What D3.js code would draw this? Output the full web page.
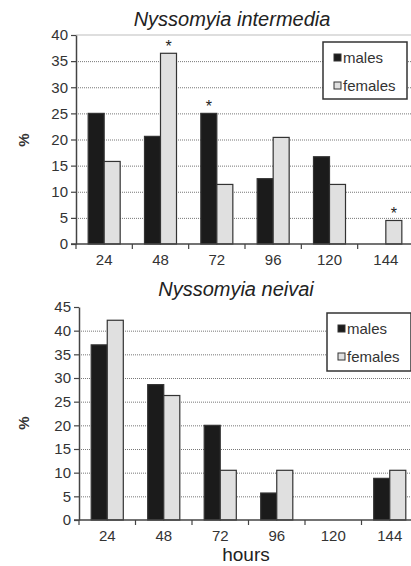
<!DOCTYPE html>
<html>
<head>
<meta charset="utf-8">
<script src="https://cdn.jsdelivr.net/npm/d3@7"></script>
<style>
  body { margin: 0; background: #fff; }
  svg { display: block; font-family: "Liberation Sans", Arial, sans-serif; }
</style>
</head>
<body>
<div id="chart"></div>
<script>
// data ---------------------------------------------------------
var hours = ["24", "48", "72", "96", "120", "144"];
var sexes = ["males", "females"];

var intermediaMales   = [25, 20.6, 25, 12.5, 16.7, 0];
var intermediaFemales = [15.8, 36.5, 11.4, 20.4, 11.4, 4.5];
var intermediaStars   = [["48", "females"], ["72", "males"], ["144", "females"]];
var intermediaTicks   = [0, 5, 10, 15, 20, 25, 30, 35, 40];

var neivaiMales   = [37, 28.6, 20, 5.7, 0, 8.8];
var neivaiFemales = [42.2, 26.3, 10.5, 10.5, 0, 10.5];
var neivaiTicks   = [0, 5, 10, 15, 20, 25, 30, 35, 40, 45];

var barColor = { males: "#1b1b1b", females: "#e0e0e0" };

// layout ---------------------------------------------------------
var W = 411, H = 566;

var svg = d3.select("#chart").append("svg")
  .attr("width", W)
  .attr("height", H);

var drawPanel = function(opt) {
  var g = svg.append("g");

  var x = d3.scaleBand().domain(hours).range([opt.left, opt.right]);
  var xSub = d3.scaleBand().domain(sexes)
    .range([0, x.bandwidth()])
    .paddingOuter(0.76);
  var y = d3.scaleLinear().domain([0, opt.max]).range([opt.bottom, opt.top]);

  // light line at the top of the first panel
  if (opt.topLine) {
    g.append("line")
      .attr("x1", opt.left).attr("x2", W)
      .attr("y1", y(opt.max)).attr("y2", y(opt.max))
      .attr("stroke", "#bdbdbd").attr("stroke-width", 1);
  }

  // dotted gridlines
  g.append("g").selectAll("line")
    .data(opt.ticks.filter(function(t){ return t > 0 && t < opt.max; }))
    .enter().append("line")
    .attr("x1", opt.left).attr("x2", W)
    .attr("y1", function(t){ return y(t) + 0.5; })
    .attr("y2", function(t){ return y(t) + 0.5; })
    .attr("stroke", "#777")
    .attr("stroke-width", 1)
    .attr("stroke-dasharray", "1,1");

  // bars
  var rows = hours.map(function(h, i){
    return { hour: h, males: opt.males[i], females: opt.females[i] };
  });
  var groups = g.append("g").selectAll("g")
    .data(rows).enter().append("g")
    .attr("transform", function(d){ return "translate(" + x(d.hour) + ",0)"; });

  groups.selectAll("rect")
    .data(function(d){ return sexes.map(function(s){ return { sex: s, v: d[s] }; }); })
    .enter().filter(function(d){ return d.v > 0; })
    .append("rect")
    .attr("x", function(d){ return xSub(d.sex); })
    .attr("width", xSub.bandwidth())
    .attr("y", function(d){ return y(d.v); })
    .attr("height", function(d){ return y(0) - y(d.v); })
    .attr("fill", function(d){ return barColor[d.sex]; })
    .attr("stroke", "#333")
    .attr("stroke-width", 1.2);

  // significance stars
  if (opt.stars) {
    g.append("g").selectAll("text")
      .data(opt.stars).enter().append("text")
      .attr("x", function(d){ return x(d[0]) + xSub(d[1]) + xSub.bandwidth() / 2; })
      .attr("y", function(d){
        var v = d[1] === "males" ? opt.males[hours.indexOf(d[0])] : opt.females[hours.indexOf(d[0])];
        return y(v) - 1;
      })
      .attr("text-anchor", "middle")
      .attr("font-size", 16)
      .attr("fill", "#222")
      .text("*");
  }

  // y axis
  var yAxis = d3.axisLeft(y).tickValues(opt.ticks).tickSize(5).tickSizeOuter(0);
  var ya = g.append("g")
    .attr("transform", "translate(" + opt.left + ",0)")
    .call(yAxis);
  ya.select(".domain").attr("stroke", "#444").attr("stroke-width", 1.5);
  ya.selectAll(".tick line").attr("stroke", "#444").attr("stroke-width", 1.2);
  ya.selectAll(".tick text")
    .attr("font-size", 15).attr("fill", "#333").attr("x", -8)
    .attr("font-family", "'Liberation Sans', Arial, sans-serif");

  // x axis: line, ticks at band edges, labels centred
  g.append("line")
    .attr("x1", opt.left - 5).attr("x2", W)
    .attr("y1", y(0)).attr("y2", y(0))
    .attr("stroke", "#444").attr("stroke-width", 1.5);
  g.append("g").selectAll("line")
    .data(hours).enter().append("line")
    .attr("x1", function(h){ return x(h); })
    .attr("x2", function(h){ return x(h); })
    .attr("y1", y(0)).attr("y2", y(0) + 5)
    .attr("stroke", "#444").attr("stroke-width", 1.2);
  g.append("g").selectAll("text")
    .data(hours).enter().append("text")
    .attr("x", function(h){ return x(h) + x.bandwidth() / 2; })
    .attr("y", y(0) + 21)
    .attr("text-anchor", "middle")
    .attr("font-size", 15)
    .attr("fill", "#333")
    .text(function(h){ return h; });

  // % label
  g.append("text")
    .attr("transform", "translate(" + 29 + "," + opt.pctY + ") rotate(-90)")
    .attr("text-anchor", "middle")
    .attr("font-size", 15)
    .attr("font-weight", "bold")
    .attr("fill", "#333")
    .text("%");

  // title
  g.append("text")
    .attr("x", opt.titleX)
    .attr("y", opt.titleY)
    .attr("text-anchor", "middle")
    .attr("font-size", 20)
    .attr("font-style", "italic")
    .attr("fill", "#222")
    .text(opt.title);

  // legend
  var lg = g.append("g").attr("transform", "translate(" + opt.legX + "," + opt.legY + ")");
  lg.append("rect")
    .attr("width", opt.legW).attr("height", opt.legH)
    .attr("fill", "#fff").attr("stroke", "#333").attr("stroke-width", 1.5);
  sexes.forEach(function(s, i){
    var cy = 16 + i * 28;
    lg.append("rect")
      .attr("x", 11).attr("y", cy - 4)
      .attr("width", 7).attr("height", 7)
      .attr("fill", barColor[s]).attr("stroke", "#333").attr("stroke-width", 1);
    lg.append("text")
      .attr("x", 20).attr("y", cy + 5)
      .attr("font-size", 15)
      .attr("fill", "#333")
      .text(s);
  });
};

drawPanel({
  title: "Nyssomyia intermedia", titleX: 232, titleY: 26,
  males: intermediaMales, females: intermediaFemales,
  stars: intermediaStars, ticks: intermediaTicks, max: 40,
  left: 76, right: 414, top: 35, bottom: 244, topLine: true,
  pctY: 140,
  legX: 323, legY: 42, legW: 84, legH: 57
});

drawPanel({
  title: "Nyssomyia neivai", titleX: 236, titleY: 296,
  males: neivaiMales, females: neivaiFemales,
  stars: null, ticks: neivaiTicks, max: 45,
  left: 79, right: 418, top: 307, bottom: 520, topLine: false,
  pctY: 423,
  legX: 327, legY: 313, legW: 84, legH: 58
});

// x axis title
svg.append("text")
  .attr("x", 246)
  .attr("y", 561)
  .attr("text-anchor", "middle")
  .attr("font-size", 19)
  .attr("fill", "#222")
  .text("hours");
</script>
</body>
</html>
